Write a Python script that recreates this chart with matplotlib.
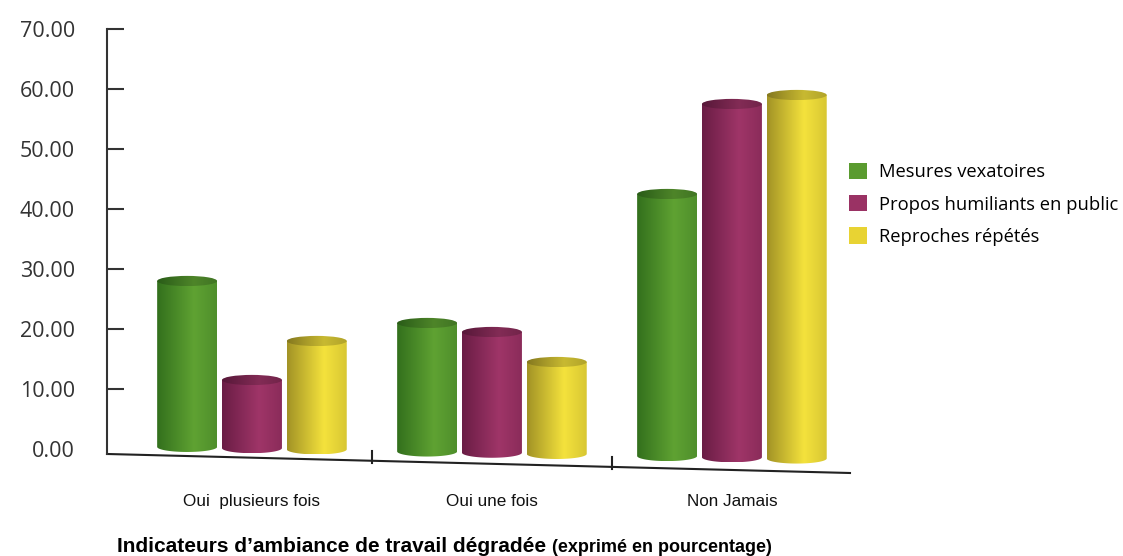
import numpy as np
import matplotlib
matplotlib.use('Agg')
import matplotlib.pyplot as plt
from matplotlib.colors import LinearSegmentedColormap, to_rgb
from matplotlib.patches import Ellipse, PathPatch, Patch
from matplotlib.path import Path

plt.rcParams['font.family'] = ['Open Sans', 'DejaVu Sans']

# donnees
categories = ['Oui  plusieurs fois', 'Oui une fois', 'Non Jamais']
series = ['Mesures vexatoires', 'Propos humiliants en public', 'Reproches répétés']
mesures = [28.0, 21.0, 42.5]
propos = [11.5, 19.5, 57.5]
reproches = [18.0, 14.5, 59.0]
yticks = [0, 10, 20, 30, 40, 50, 60, 70]

# couleurs (sombre, clair, bord droit, legende)
shades = [
    ('#33701d', '#5fa232', '#4f8f2c', '#5a9b2f'),
    ('#6a1d45', '#9f3568', '#8b2c5a', '#9a3264'),
    ('#a29326', '#f4e23c', '#d8c733', '#e8d333'),
]

fig = plt.figure(figsize=(11.23, 5.56), dpi=100)
ax = fig.add_axes([107/1123, 77/556, 743/1123, 450/556])
xlim = (-0.604, 2.492)
ylim = (-5, 70)

x = np.arange(len(categories))
offsets = [-0.27, 0.0, 0.27]
w = 0.25
eh = 0.85      # demi-hauteur de l'ellipse
slope = 0.76   # perspective de la base


def cmap_for(dark, bright, right, k=1.0):
    cols = [np.array(to_rgb(c)) * k for c in (dark, bright, right)]
    cols = [np.clip(c, 0, 1) for c in cols]
    return LinearSegmentedColormap.from_list('c', [(0, cols[0]), (0.62, cols[1]), (1, cols[2])])


def cylinder(xc, val, sh, z):
    x0, x1 = xc - w/2, xc + w/2
    base = -slope * xc + 0.15
    t = np.linspace(np.pi, 2*np.pi, 40)
    verts = [(x0, val)] + [(xc + w/2*np.cos(a), base + eh*np.sin(a)) for a in t] + [(x1, val), (x0, val)]
    codes = [Path.MOVETO] + [Path.LINETO]*(len(verts) - 2) + [Path.CLOSEPOLY]
    body = PathPatch(Path(verts, codes), facecolor='none', edgecolor='none')
    ax.add_patch(body)
    grad = cmap_for(*sh[:3])(np.linspace(0, 1, 200))[None, :, :3]
    im = ax.imshow(grad, extent=[x0, x1, base - eh, val], aspect='auto', origin='lower',
                   interpolation='bilinear', zorder=z)
    im.set_clip_path(body)
    cap = Ellipse((xc, val), w, 2*eh, facecolor='none', edgecolor='none')
    ax.add_patch(cap)
    grad2 = cmap_for(*sh[:3], k=0.82)(np.linspace(0, 1, 200))[None, :, :3]
    im2 = ax.imshow(grad2, extent=[x0, x1, val - eh, val + eh], aspect='auto', origin='lower',
                    interpolation='bilinear', zorder=z + 0.5)
    im2.set_clip_path(cap)


for i, vals in enumerate([mesures, propos, reproches]):
    for j, v in enumerate(vals):
        cylinder(x[j] + offsets[i], v, shades[i], 3 + i)

ax.set_xlim(*xlim)
ax.set_ylim(*ylim)

# axes
for s in ['top', 'right', 'bottom']:
    ax.spines[s].set_visible(False)
ax.spines['left'].set_bounds(-0.83, 70)
ax.spines['left'].set_color('#333333')
ax.spines['left'].set_linewidth(1.5)
ax.set_yticks(yticks)
ax.set_yticklabels(['%.2f' % v for v in yticks])
ax.tick_params(axis='y', direction='in', length=12, width=1.5, pad=23,
               labelsize=15.5, color='#333333', labelcolor='#333333')
ax.yaxis.get_major_ticks()[0].tick1line.set_visible(False)
ax.set_xticks([])

y_a, y_b = -0.83, -4.0
ax.plot(xlim, [y_a, y_b], color='#222222', lw=1.5, clip_on=False, zorder=2)
for xd in [0.5, 1.5]:
    yl = y_a + (y_b - y_a) * (xd - xlim[0]) / (xlim[1] - xlim[0])
    ax.plot([xd, xd], [yl - 0.3, yl + 1.6], color='#222222', lw=1.5, clip_on=False, zorder=2)

narrow = ['Liberation Sans', 'DejaVu Sans']
for j, c in enumerate(categories):
    ax.text(x[j], -8.8, c, ha='center', va='center', fontsize=12.3,
            family=narrow, color='#111111', clip_on=False)

t = fig.text(117/1123, 1 - 552/556, 'Indicateurs d’ambiance de travail dégradée', ha='left', va='baseline',
             fontsize=15, fontweight='bold', family=narrow)
ax.annotate('(exprimé en pourcentage)', xy=(1, 0), xycoords=t, xytext=(4, 0), textcoords='offset points',
            ha='left', va='bottom', fontsize=13, fontweight='bold', family=narrow)

handles = [Patch(facecolor=sh[3], edgecolor='none') for sh in shades]
fig.legend(handles, series, loc='upper left', bbox_to_anchor=(849/1123, 1 - 163/556),
           frameon=False, fontsize=13.2, handlelength=1.0, handleheight=1.0,
           handletextpad=0.65, labelspacing=0.74, borderpad=0, borderaxespad=0)

plt.savefig('out.png', dpi=100)
